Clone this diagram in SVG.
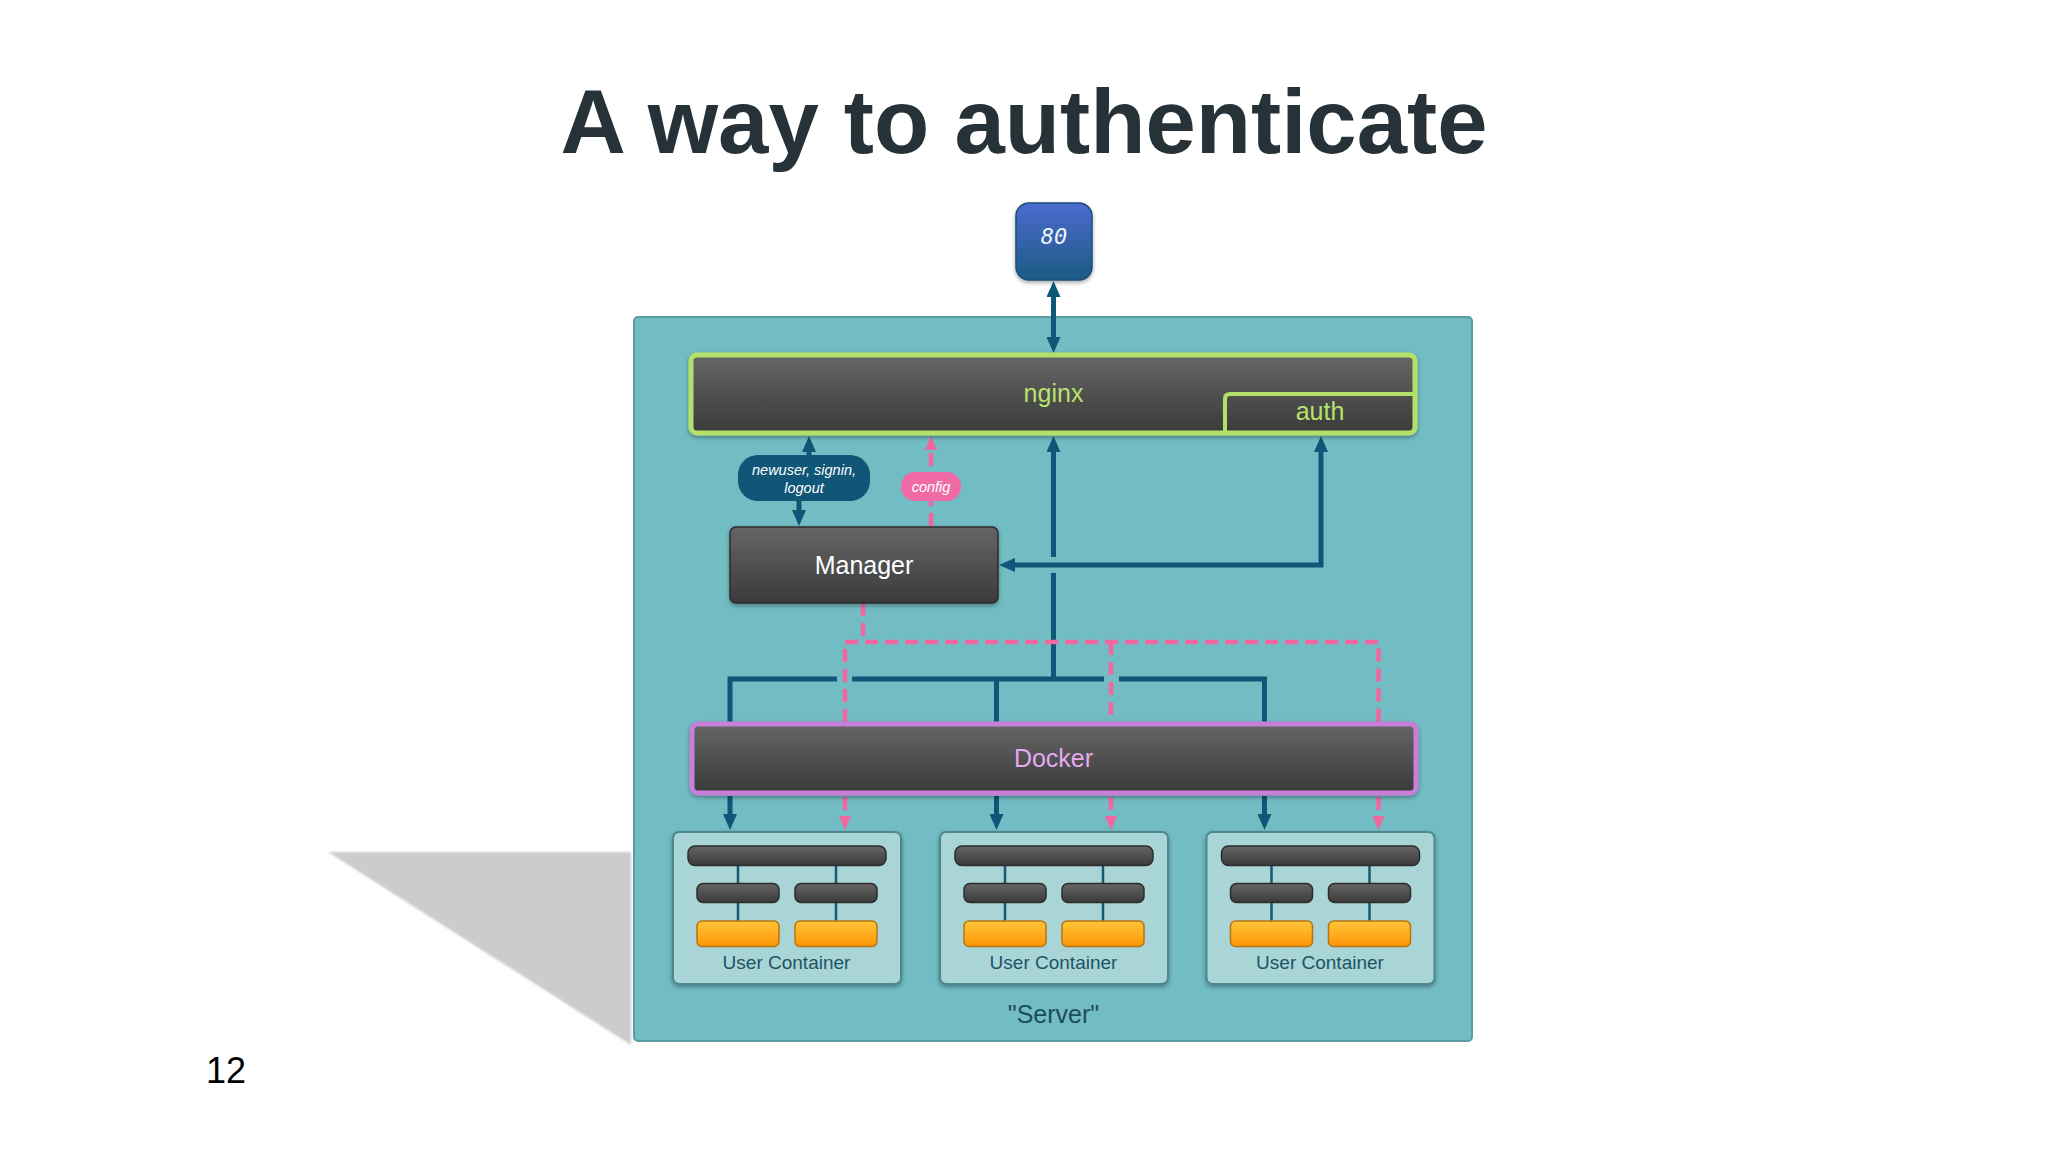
<svg xmlns="http://www.w3.org/2000/svg" width="2048" height="1152" viewBox="0 0 2048 1152">
<defs>
<style>
.title{font-family:"Liberation Sans",Arial,sans-serif;font-weight:bold;font-size:90.5px;fill:#263238;text-anchor:middle}
.lbl{font-family:"Liberation Sans",Arial,sans-serif;font-size:25px;text-anchor:middle}
.uc{font-family:"Liberation Sans",Arial,sans-serif;font-size:19px;fill:#1d5466;text-anchor:middle}
.pill{font-family:"Liberation Sans",Arial,sans-serif;font-size:14.5px;font-style:italic;fill:#ffffff;text-anchor:middle}
.dark{fill:url(#gDark);stroke:#2c2c2c;stroke-width:1.5}
.orange{fill:url(#gOrange);stroke:#b87410;stroke-width:1.5}
.blue{fill:none;stroke:#0f5677;stroke-width:5}
.pink{fill:none;stroke:#f2679f;stroke-width:4.5;stroke-dasharray:13 7}
.thin{stroke:#1a5870;stroke-width:2.5}
</style>
<linearGradient id="gDark" x1="0" y1="0" x2="0" y2="1"><stop offset="0" stop-color="#666666"/><stop offset="1" stop-color="#3a3a3a"/></linearGradient>
<linearGradient id="gOrange" x1="0" y1="0" x2="0" y2="1"><stop offset="0" stop-color="#ffc53a"/><stop offset="1" stop-color="#ff9606"/></linearGradient>
<linearGradient id="gBlue" x1="0" y1="0" x2="0" y2="1"><stop offset="0" stop-color="#4a6bd0"/><stop offset="1" stop-color="#1d5a84"/></linearGradient>
<filter id="sh" x="-10%" y="-10%" width="120%" height="130%"><feDropShadow dx="0" dy="2" stdDeviation="2" flood-color="#000" flood-opacity="0.35"/></filter>
<filter id="blur"><feGaussianBlur stdDeviation="1.2"/></filter>
<marker id="ab" viewBox="0 0 16 14" refX="2" refY="7" markerWidth="16" markerHeight="14" markerUnits="userSpaceOnUse" orient="auto-start-reverse"><path d="M0,0 L16,7 L0,14 z" fill="#0f5677"/></marker>
<marker id="ap" viewBox="0 0 14 12" refX="2" refY="6" markerWidth="14" markerHeight="12" markerUnits="userSpaceOnUse" orient="auto-start-reverse"><path d="M0,0 L14,6 L0,12 z" fill="#f2679f"/></marker>
</defs>
<rect width="2048" height="1152" fill="#ffffff"/>
<text class="title" x="1024" y="153">A way to authenticate</text>
<text x="206" y="1083" font-family="Liberation Sans, Arial, sans-serif" font-size="36" fill="#000">12</text>
<polygon points="328,852 631,852 631,1045" fill="#cccccc" filter="url(#blur)"/>
<g id="server">
<rect x="634" y="317" width="838" height="724" rx="4" fill="#72bcc4" stroke="#5a9ba4" stroke-width="2"/>
<text class="lbl" x="1053.5" y="1023" fill="#1c4d5c">"Server"</text>
</g>
<g id="port80">
<rect x="1016" y="203" width="76" height="77" rx="13" fill="url(#gBlue)" stroke="#1c4f78" stroke-width="1.5" filter="url(#sh)"/>
<text x="1054" y="244" font-family="DejaVu Sans Mono, monospace" font-style="italic" font-size="22" fill="#eef2fa" text-anchor="middle">80</text>
</g>
<g id="connectors">
<path class="blue" d="M1053.5,295 V339" marker-start="url(#ab)" marker-end="url(#ab)"/>
<path class="blue" d="M799,512 V480 H809 V450" marker-start="url(#ab)" marker-end="url(#ab)"/>
<path class="pink" d="M931,526 V448" marker-end="url(#ap)"/>
<path class="blue" d="M1053.5,557 V450" marker-end="url(#ab)"/>
<path class="blue" d="M1053.5,679 V573"/>
<path class="blue" d="M1321,450 V565 H1013" marker-start="url(#ab)" marker-end="url(#ab)"/>
<path class="pink" d="M863,603 V642"/>
<path class="pink" d="M845,722 V642 H1378.5 V722"/>
<path class="pink" d="M1111,642 V722"/>
<path class="blue" d="M730,723 V679 H837"/>
<path class="blue" d="M852,679 H1104"/>
<path class="blue" d="M1119,679 H1264.5 V723"/>
<path class="blue" d="M996.5,679 V723"/>
<path class="blue" d="M730,796 V816" marker-end="url(#ab)"/>
<path class="blue" d="M996.5,796 V816" marker-end="url(#ab)"/>
<path class="blue" d="M1264.5,796 V816" marker-end="url(#ab)"/>
<path class="pink" d="M845,797 V818" marker-end="url(#ap)"/>
<path class="pink" d="M1111,797 V818" marker-end="url(#ap)"/>
<path class="pink" d="M1378.5,797 V818" marker-end="url(#ap)"/>
<g id="label-newuser">
<rect x="738" y="455" width="132" height="46" rx="20" fill="#0f5677"/>
<text class="pill" x="804" y="475">newuser, signin,</text>
<text class="pill" x="804" y="493">logout</text>
</g>
<g id="label-config">
<rect x="901" y="472" width="60" height="29" rx="14" fill="#f06aa6"/>
<text class="pill" x="931" y="492">config</text>
</g>
</g>
<g id="nginx">
<rect x="691" y="355" width="724" height="78" rx="6" fill="url(#gDark)" stroke="#b4e06a" stroke-width="5" filter="url(#sh)"/>
<path d="M1225,433 V399 Q1225,394 1230,394 H1415" fill="none" stroke="#b4e06a" stroke-width="4"/>
<text class="lbl" x="1053.5" y="402" fill="#b8e26c">nginx</text>
<text class="lbl" x="1320" y="420" fill="#b8e26c">auth</text>
</g>
<g id="manager">
<rect class="dark" x="730" y="527" width="268" height="76" rx="6" filter="url(#sh)"/>
<text class="lbl" x="864" y="574" fill="#ffffff">Manager</text>
</g>
<g id="docker">
<rect x="692" y="724" width="724" height="69" rx="6" fill="url(#gDark)" stroke="#c77fd8" stroke-width="5" filter="url(#sh)"/>
<text class="lbl" x="1053.5" y="767" fill="#e6a8ef">Docker</text>
</g>
<g id="uc1">
<rect x="673" y="832" width="228" height="152" rx="6" fill="#a9d5d6" stroke="#4d8890" stroke-width="2" filter="url(#sh)"/>
<line class="thin" x1="738" y1="865" x2="738" y2="921"/>
<line class="thin" x1="836" y1="865" x2="836" y2="921"/>
<rect class="dark" x="688" y="846" width="198" height="19.5" rx="7"/>
<rect class="dark" x="697" y="883.5" width="82" height="19" rx="6"/>
<rect class="dark" x="795" y="883.5" width="82" height="19" rx="6"/>
<rect class="orange" x="697" y="921" width="82" height="25.5" rx="5"/>
<rect class="orange" x="795" y="921" width="82" height="25.5" rx="5"/>
<text class="uc" x="786.5" y="969">User Container</text>
</g>
<g id="uc2" transform="translate(267,0)">
<rect x="673" y="832" width="228" height="152" rx="6" fill="#a9d5d6" stroke="#4d8890" stroke-width="2" filter="url(#sh)"/>
<line class="thin" x1="738" y1="865" x2="738" y2="921"/>
<line class="thin" x1="836" y1="865" x2="836" y2="921"/>
<rect class="dark" x="688" y="846" width="198" height="19.5" rx="7"/>
<rect class="dark" x="697" y="883.5" width="82" height="19" rx="6"/>
<rect class="dark" x="795" y="883.5" width="82" height="19" rx="6"/>
<rect class="orange" x="697" y="921" width="82" height="25.5" rx="5"/>
<rect class="orange" x="795" y="921" width="82" height="25.5" rx="5"/>
<text class="uc" x="786.5" y="969">User Container</text>
</g>
<g id="uc3" transform="translate(533.5,0)">
<rect x="673" y="832" width="228" height="152" rx="6" fill="#a9d5d6" stroke="#4d8890" stroke-width="2" filter="url(#sh)"/>
<line class="thin" x1="738" y1="865" x2="738" y2="921"/>
<line class="thin" x1="836" y1="865" x2="836" y2="921"/>
<rect class="dark" x="688" y="846" width="198" height="19.5" rx="7"/>
<rect class="dark" x="697" y="883.5" width="82" height="19" rx="6"/>
<rect class="dark" x="795" y="883.5" width="82" height="19" rx="6"/>
<rect class="orange" x="697" y="921" width="82" height="25.5" rx="5"/>
<rect class="orange" x="795" y="921" width="82" height="25.5" rx="5"/>
<text class="uc" x="786.5" y="969">User Container</text>
</g>
</svg>
